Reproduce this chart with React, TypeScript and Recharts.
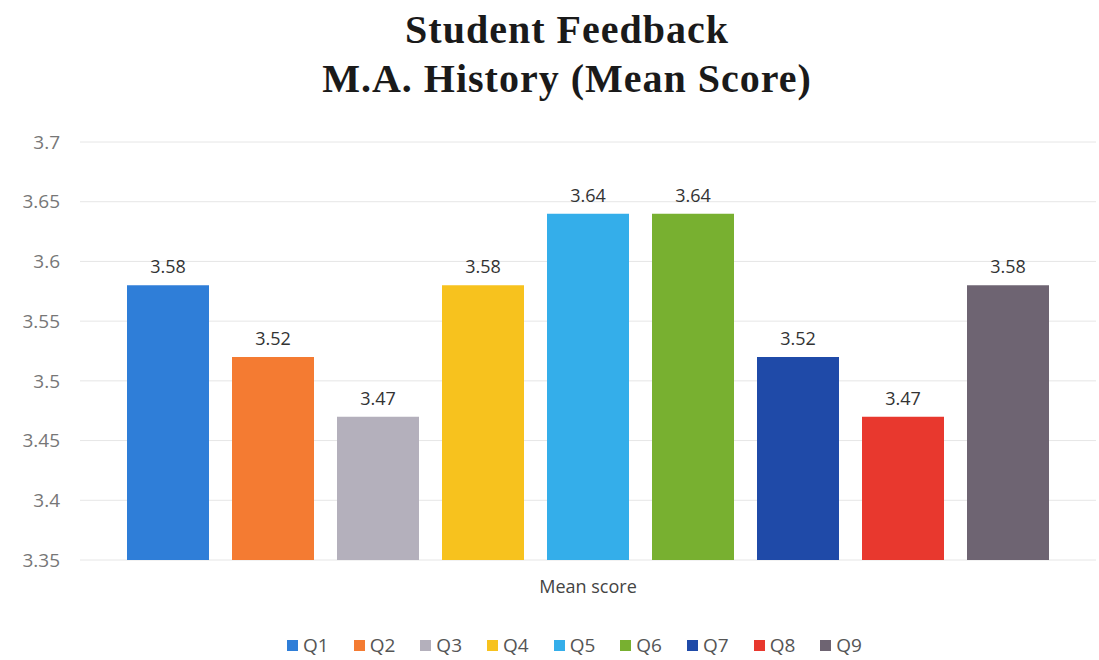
import React from 'react';
import { BarChart, Bar, XAxis, YAxis, CartesianGrid, Legend, LabelList } from 'recharts';

const questions = ['Q1', 'Q2', 'Q3', 'Q4', 'Q5', 'Q6', 'Q7', 'Q8', 'Q9'];
const meanScores = [3.58, 3.52, 3.47, 3.58, 3.64, 3.64, 3.52, 3.47, 3.58];
const barColors = ['#2f7ed8', '#f47b32', '#b4b0bc', '#f7c21e', '#34aeea', '#78b030', '#1f4aa8', '#e8382e', '#6e6472'];
const yTicks = [3.35, 3.4, 3.45, 3.5, 3.55, 3.6, 3.65, 3.7];
const category = 'Mean score';

const chartData = [
  questions.reduce((row: Record<string, string | number>, q, i) => {
    row[q] = meanScores[i];
    return row;
  }, { name: category }),
];

const font = '"Open Sans", "Liberation Sans", sans-serif';

// Legend with wider spacing like the original Excel chart
const LegendRow = ({ payload }: any) => (
  <div style={{ display: 'flex', justifyContent: 'center', gap: 25, fontFamily: font, fontSize: 19, color: '#555', paddingLeft: 50 }}>
    {(payload || []).map((p: any) => (
      <div key={p.value} style={{ display: 'flex', alignItems: 'center', gap: 5 }}>
        <span style={{ width: 11, height: 11, background: p.color, display: 'inline-block' }} />
        <span>{p.value}</span>
      </div>
    ))}
  </div>
);

export default function App() {
  return (
    <div style={{ position: 'absolute', left: 0, top: 0, width: 1099, height: 660, background: '#fff', overflow: 'hidden' }}>
      <div
        style={{
          position: 'absolute',
          top: 5,
          left: 0,
          width: 1134,
          textAlign: 'center',
          fontFamily: '"Liberation Serif", "DejaVu Serif", serif',
          fontWeight: 'bold',
          fontSize: 40,
          lineHeight: '49px',
          color: '#1a1a1a',
          letterSpacing: 1,
        }}
      >
        <div>Student Feedback</div>
        <div>M.A. History (Mean Score)</div>
      </div>
      <BarChart
        width={1099}
        height={660}
        data={chartData}
        margin={{ top: 142, right: 3, bottom: 44, left: 0 }}
        barSize={82}
        barGap={23}
      >
        <CartesianGrid vertical={false} stroke="#e6e6e6" />
        <XAxis
          dataKey="name"
          axisLine={false}
          tickLine={false}
          tickMargin={14}
          tick={{ fontSize: 18, fill: '#444', fontFamily: font }}
        />
        <YAxis
          width={80}
          domain={[3.35, 3.7]}
          ticks={yTicks}
          allowDataOverflow
          axisLine={false}
          tickLine={false}
          tickSize={0}
          tickMargin={20}
          tick={{ fontSize: 19, fill: '#777', fontFamily: font }}
        />
        <Legend
          content={<LegendRow />}
          wrapperStyle={{ top: 632, left: 0, width: 1099 }}
        />
        {questions.map((q, i) => (
          <Bar key={q} dataKey={q} fill={barColors[i]} isAnimationActive={false}>
            <LabelList
              dataKey={q}
              position="top"
              offset={12}
              fill="#333"
              fontSize={18}
              fontFamily={font}
              formatter={(v: any) => Number(v).toFixed(2)}
            />
          </Bar>
        ))}
      </BarChart>
    </div>
  );
}
